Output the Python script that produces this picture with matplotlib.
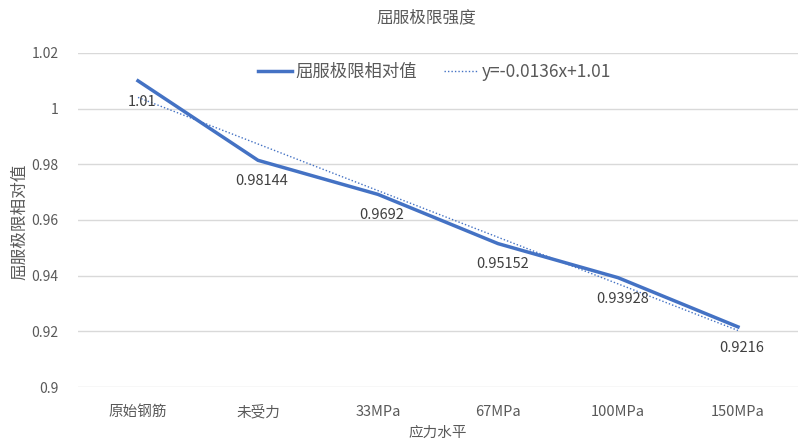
import numpy as np
import matplotlib
matplotlib.use("Agg")
import matplotlib.pyplot as plt

plt.rcParams['font.family'] = ['Noto Sans CJK SC', 'DejaVu Sans']

categories = ["原始钢筋", "未受力", "33MPa", "67MPa", "100MPa", "150MPa"]
values = [1.01, 0.98144, 0.9692, 0.95152, 0.93928, 0.9216]
value_labels = ["1.01", "0.98144", "0.9692", "0.95152", "0.93928", "0.9216"]
yticks = [0.9, 0.92, 0.94, 0.96, 0.98, 1.0, 1.02]
ytick_labels = ["0.9", "0.92", "0.94", "0.96", "0.98", "1", "1.02"]
trend_label = "y=-0.0136x+1.01"

blue = "#4472C4"
grey = "#595959"


def main():
    fig = plt.figure(figsize=(8.09, 4.43), dpi=100)
    ax = fig.add_axes([0.0964, 0.1264, 0.89, 0.754])

    x = np.arange(len(categories))
    ax.plot(x, values, color=blue, lw=2.5, label="屈服极限相对值", zorder=3)

    # linear trendline (Excel-style, x starting at 1)
    k, b = np.polyfit(x + 1, values, 1)
    ax.plot(x, k * (x + 1) + b, color=blue, lw=1, ls=(0, (1, 1.5)),
            label=trend_label, zorder=2)

    for xi, v, s in zip(x, values, value_labels):
        ax.annotate(s, (xi, v), xytext=(3, -10), textcoords="offset points",
                    ha="center", va="top", fontsize=10.5, color="#404040")

    ax.set_xlim(-0.5, len(categories) - 0.5)
    ax.set_ylim(0.9, 1.02)
    ax.set_xticks(x)
    ax.set_xticklabels(categories, fontsize=10.5, color=grey)
    ax.set_yticks(yticks)
    ax.set_yticklabels(ytick_labels, fontsize=10, color=grey)
    ax.tick_params(length=0, pad=14)
    ax.tick_params(axis="x", pad=13)
    ax.grid(axis="y", color="#d9d9d9", lw=1)
    ax.set_axisbelow(True)
    for sp in ax.spines.values():
        sp.set_visible(False)

    fig.text(0.541, 0.022, "应力水平", ha="center", va="center",
             fontsize=10.5, color=grey)
    fig.text(0.025, 0.5, "屈服极限相对值", rotation=90, va="center", ha="center",
             fontsize=12, color=grey)
    fig.text(0.527, 0.959, "屈服极限强度", ha="center", va="center", fontsize=12,
             color=grey)

    ax.legend(loc="center", bbox_to_anchor=(0.495, 0.943), ncol=2, frameon=False,
              fontsize=12.5, handlelength=2.0, handletextpad=0.2,
              columnspacing=1.5, labelcolor=grey)

    fig.savefig("out.png", dpi=100)


if __name__ == '__main__':
    main()
